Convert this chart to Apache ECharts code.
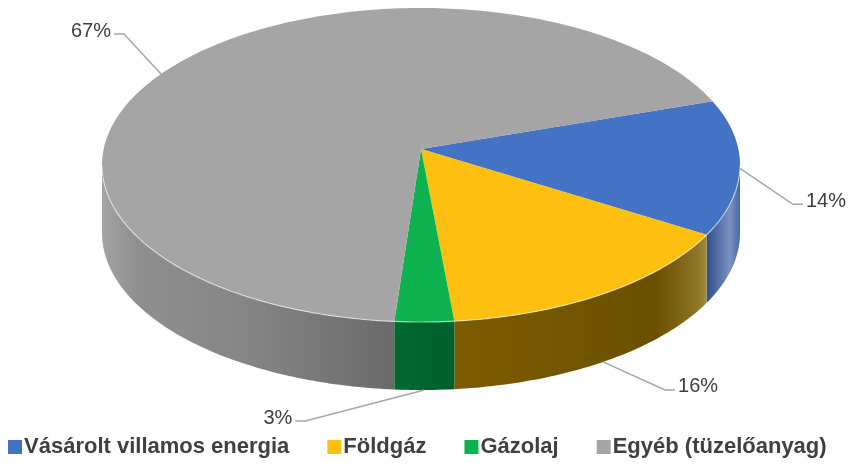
<!DOCTYPE html>
<html>
<head>
<meta charset="utf-8">
<script src="https://cdn.jsdelivr.net/npm/echarts@6/dist/echarts.min.js"></script>
<style>
  html, body { margin: 0; padding: 0; background: #fff; }
  #chart { width: 849px; height: 468px; }
</style>
</head>
<body>
<div id="chart"></div>
<script>
// adatok
const categories = ['Vásárolt villamos energia', 'Földgáz', 'Gázolaj', 'Egyéb (tüzelőanyag)'];
const shares = [14, 16, 3, 67];
const shareLabels = ['14%', '16%', '3%', '67%'];

// színek: tető és oldalfal
const TOP_COLORS = ['#4472c4', '#fdc010', '#0db14f', '#a5a5a5'];
const WALL_STOPS = [
  [[0, '#2e4f8c'], [0.7, '#7a92c0'], [1, '#4a68a3']],
  [[0, '#7d5c00'], [0.8, '#6a5000'], [0.95, '#8a7222'], [1, '#a08a40']],
  [[0, '#006a31'], [1, '#005f2b']],
  [[0, '#a4a4a4'], [0.12, '#8f8f8f'], [0.5, '#858585'], [1, '#6a6a6a']],
];

// geometria (ellipszis "3D" torta)
const CX = 421, CY = 165, RX = 319, RY = 157, DEPTH = 68, APEX_DY = -16;
const START = -24;
// címke vezetővonal: könyök eltolás a horgonyponttól
const LABEL_OFFSETS = [[53, 36], [62, 28], [-119, 31], [-37, -40]];
const STUB = 10;

const total = shares.reduce((a, b) => a + b, 0);
const angles = [];
let acc = 0;
shares.forEach(v => {
  const a0 = START + acc / total * 360;
  acc += v;
  angles.push([a0, START + acc / total * 360]);
});

function pt(a, dy) {
  const r = a * Math.PI / 180;
  return [CX + RX * Math.cos(r), CY + RY * Math.sin(r) + dy];
}
function arc(a0, a1, dy) {
  const n = Math.max(2, Math.ceil(Math.abs(a1 - a0)));
  const out = [];
  for (let k = 0; k <= n; k++) out.push(pt(a0 + (a1 - a0) * k / n, dy));
  return out;
}

function renderSlice(i) {
  return function () {
    const [a0, a1] = angles[i];
    const children = [];

    // oldalfal (csak az elülső félen)
    for (const k of [-360, 0, 360]) {
      const s = Math.max(a0, k), e = Math.min(a1, k + 180);
      if (e > s) {
        const top = arc(s, e, 0);
        children.push({
          type: 'polygon',
          shape: { points: top.concat(arc(e, s, DEPTH)) },
          style: {
            fill: new echarts.graphic.LinearGradient(0, 0, 1, 0,
              WALL_STOPS[i].map(([o, c]) => ({ offset: o, color: c }))),
          },
        });
        children.push({
          type: 'polyline',
          shape: { points: top },
          style: { stroke: 'rgba(255,255,255,0.55)', lineWidth: 1.2, fill: null },
          z2: 5,
        });
      }
    }

    // tető
    children.push({
      type: 'polygon',
      shape: { points: [[CX, CY + APEX_DY]].concat(arc(a0, a1, 0)) },
      style: { fill: TOP_COLORS[i] },
      z2: 2,
    });

    // címke + vezetővonal
    const mid = (a0 + a1) / 2;
    const front = Math.sin(mid * Math.PI / 180) > 0.3;
    const anchor = pt(mid, front ? DEPTH : 0);
    const [ox, oy] = LABEL_OFFSETS[i];
    const elbow = [anchor[0] + ox, anchor[1] + oy];
    const dir = ox >= 0 ? 1 : -1;
    const end = [elbow[0] + dir * STUB, elbow[1]];
    children.push({
      type: 'polyline',
      shape: { points: [anchor, elbow, end] },
      style: { stroke: '#a6a6a6', lineWidth: 1.5, fill: null },
      z2: 10,
    });
    children.push({
      type: 'text',
      style: {
        text: shareLabels[i],
        x: end[0] + dir * 3,
        y: end[1] - 3,
        align: dir > 0 ? 'left' : 'right',
        verticalAlign: 'middle',
        fill: '#404040',
        font: '20px "Liberation Sans", Arial, sans-serif',
      },
      z2: 10,
    });

    return { type: 'group', children };
  };
}

const chart = echarts.init(document.getElementById('chart'));
chart.setOption({
  animation: false,
  backgroundColor: '#fff',
  legend: {
    data: categories,
    left: 3,
    top: 431,
    width: 845,
    itemWidth: 14,
    itemHeight: 14,
    itemGap: 38,
    icon: 'rect',
    textStyle: {
      color: '#404040',
      fontSize: 22,
      fontWeight: 'bold',
      fontFamily: '"Liberation Sans", Arial, sans-serif',
      padding: [0, 0, 0, -3],
    },
  },
  series: categories.map((name, i) => ({
    name,
    type: 'custom',
    coordinateSystem: 'none',
    itemStyle: { color: TOP_COLORS[i] },
    data: [shares[i]],
    renderItem: renderSlice(i),
  })),
});
</script>
</body>
</html>
